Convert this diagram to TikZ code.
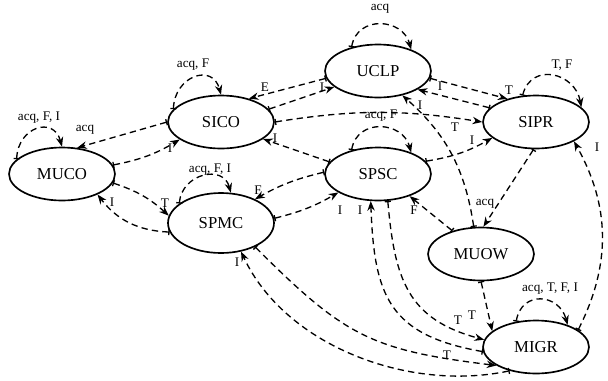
\documentclass[tikz,border=0pt]{standalone}
\usepackage{fontspec}
\setmainfont{Liberation Serif}
\usetikzlibrary{arrows.meta,shapes.geometric}

\begin{document}
\begin{tikzpicture}[x=.02cm,y=.02cm,line width=.75pt,every node/.style={font=\fontsize{9.5}{11}\selectfont},st/.style={draw,ellipse,line width=.95pt,minimum width=2.12cm,minimum height=1.06cm,inner sep=0pt},lbl/.style={font=\fontsize{7.5}{9}\selectfont,inner sep=0pt},tr/.style={dash pattern=on 3.6pt off 2.4pt,{Bar[width=3.5pt]}-{Stealth[length=5.5pt,width=4.2pt]}}]
\path[use as bounding box] (0,0) rectangle (608,380);

\node[st] (muco) at (62,206) {MUCO};
\node[st] (sico) at (221,258) {SICO};
\node[st] (uclp) at (378,309) {UCLP};
\node[st] (sipr) at (536,258) {SIPR};
\node[st,minimum height=1.2cm] (spmc) at (221,157) {SPMC};
\node[st] (spsc) at (378,206) {SPSC};
\node[st] (muow) at (481,126) {MUOW};
\node[st] (migr) at (536,33) {MIGR};

\draw[tr] (muco.162) to[out=88,in=105,looseness=1.75] (muco.90);
\draw[tr] (sico.180) -- (muco.60);
\draw[tr] (muco.10) to[bend right=10] (sico.203);
\draw[tr] (sico.165) to[out=88,in=105,looseness=1.7] (sico.90);
\draw[tr] (uclp.188) -- (sico.40);
\draw[tr] (sico.15) -- (uclp.200);
\draw[tr] (sico.0) to[bend left=9] (sipr.180);
\draw[tr] (spsc.166) -- (sico.338);
\draw[tr] (uclp.138) to[out=80,in=105,looseness=1.4] (uclp.33);
\draw[tr] (uclp.352) -- (sipr.141);
\draw[tr] (sipr.163) -- (uclp.335);
\draw[tr] (muow.105) to[bend right=20] (uclp.315);
\draw[tr] (spsc.15) to[bend right=10] (sipr.200);
\draw[tr] (spsc.138) to[out=80,in=105,looseness=1.4] (spsc.33);
\draw[tr] (spmc.5) to[bend right=8] (spsc.205);
\draw[tr] (spsc.178) to[bend right=8] (spmc.35);
\draw[tr] (spmc.155) to[out=85,in=105,looseness=1.45] (spmc.72);
\draw[tr] (muco.350) to[bend left=12] (spmc.172);
\draw[tr] (spmc.190) to[bend left=25] (muco.330);
\draw[tr] (sipr.117) to[out=75,in=100,looseness=1.5] (sipr.18);
\draw[tr] (sipr.265) -- (muow.85);
\draw[tr] (muow.141) -- (spsc.325);
\draw[tr] (migr.22) to[bend right=28] (sipr.333);
\draw[tr] (migr.128) to[out=80,in=105,looseness=1.6] (migr.35);
\draw[tr] (muow.270) -- (migr.160);
\draw[tr] (spsc.290) to[out=-85,in=165,looseness=1.2] (migr.172);
\draw[tr] (migr.185) to[out=170,in=-88,looseness=1.3] (spsc.255);
\draw[tr] (spmc.325) to[out=-45,in=173,looseness=1.2] (migr.205);
\draw[tr] (migr.222) to[out=192,in=-65,looseness=.9] (spmc.305);

\node[lbl] (l1) at (39,262) {acq, F, I};
\node[lbl] (l2) at (85,250) {acq};
\node[lbl] (l3) at (170,232) {I};
\node[lbl] (l4) at (193,315) {acq, F};
\node[lbl] (l5) at (265,293) {E};
\node[lbl] (l6) at (322,293) {I};
\node[lbl] (l7) at (380,371) {acq};
\node[lbl] (l8) at (440,294) {I};
\node[lbl] (l9) at (509,290) {T};
\node[lbl] (l10) at (562,315) {T, F};
\node[lbl] (l11) at (420,275) {I};
\node[lbl] (l12) at (455,253) {T};
\node[lbl] (l13) at (381,264) {acq, F};
\node[lbl] (l14) at (472,240) {I};
\node[lbl] (l15) at (275,242) {I};
\node[lbl] (l16) at (258,190) {F};
\node[lbl] (l17) at (210,210) {acq, F, I};
\node[lbl] (l18) at (165,177) {T};
\node[lbl] (l19) at (112,178) {I};
\node[lbl] (l20) at (340,170) {I};
\node[lbl] (l21) at (360,170) {I};
\node[lbl] (l22) at (414,170) {F};
\node[lbl] (l23) at (485,176) {acq};
\node[lbl] (l24) at (597,233) {I};
\node[lbl] (l25) at (550,91) {acq, T, F, I};
\node[lbl] (l26) at (472,65) {T};
\node[lbl] (l27) at (458,60) {T};
\node[lbl] (l28) at (447,25) {T};
\node[lbl] (l29) at (237,118) {I};

\end{tikzpicture}
\end{document}
